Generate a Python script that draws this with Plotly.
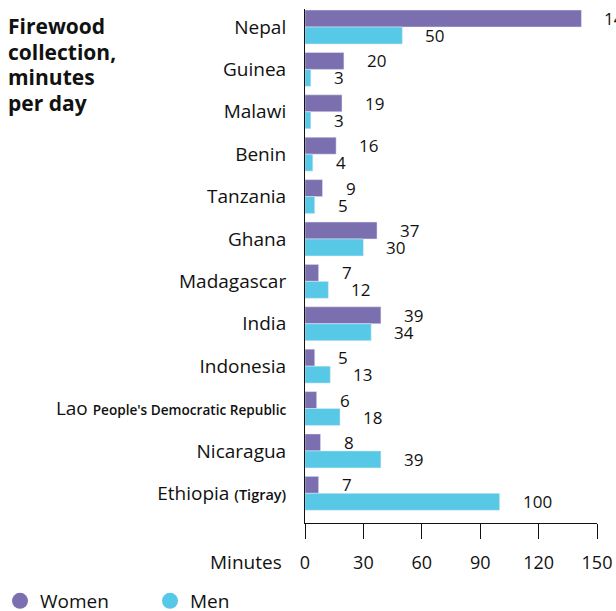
import plotly.graph_objects as go

countries = ["Nepal", "Guinea", "Malawi", "Benin", "Tanzania", "Ghana", "Madagascar",
             "India", "Indonesia", "Lao People's Democratic Republic", "Nicaragua", "Ethiopia (Tigray)"]
tick_text = ["Nepal", "Guinea", "Malawi", "Benin", "Tanzania", "Ghana", "Madagascar",
             "India", "Indonesia",
             "Lao <span style='font-size:13.6px;font-weight:600'>People's Democratic Republic</span>",
             "Nicaragua",
             "Ethiopia <span style='font-size:14.5px;font-weight:600'>(Tigray)</span>"]
women = [142, 20, 19, 16, 9, 37, 7, 39, 5, 6, 8, 7]
men = [50, 3, 3, 4, 5, 30, 12, 34, 13, 18, 39, 100]
x_ticks = [0, 30, 60, 90, 120, 150]

PURPLE = "#7B6FB0"
CYAN = "#57C8E6"
FONT = "Open Sans"
INK = "#111"

# plot area in pixels
W, H = 616, 611
L, R, T, B = 305, 19, 9, 88
PW, PH = W - L - R, H - T - B


def px_x(px):
    return (px - L) / PW


def px_y(py):
    return (H - B - py) / PH


fig = go.Figure()
fig.add_trace(go.Bar(y=countries, x=women, orientation="h", marker_color=PURPLE,
                     name="Women", showlegend=False))
fig.add_trace(go.Bar(y=countries, x=men, orientation="h", marker_color=CYAN,
                     name="Men", showlegend=False))
# legend entries with round markers
fig.add_trace(go.Scatter(x=[None], y=[None], mode="markers", name="Women",
                         marker=dict(color=PURPLE, size=20, symbol="circle")))
fig.add_trace(go.Scatter(x=[None], y=[None], mode="markers", name="Men",
                         marker=dict(color=CYAN, size=20, symbol="circle")))

annotations = []
for c, w, m in zip(countries, women, men):
    annotations.append(dict(x=w, y=c, xref="x", yref="y", text=str(w), showarrow=False,
                            xanchor="left", xshift=21, yshift=8.5,
                            font=dict(family=FONT, size=17, color=INK)))
    annotations.append(dict(x=m, y=c, xref="x", yref="y", text=str(m), showarrow=False,
                            xanchor="left", xshift=21, yshift=-8.5,
                            font=dict(family=FONT, size=17, color=INK)))

title_lines = ["Firewood", "collection,", "minutes", "per day"]
for i, line in enumerate(title_lines):
    annotations.append(dict(x=px_x(6), y=px_y(26 + 25.5 * i), xref="paper", yref="paper",
                            text="<b>" + line + "</b>", showarrow=False,
                            xanchor="left", yanchor="middle",
                            font=dict(family=FONT, size=21, color=INK)))

annotations.append(dict(x=px_x(284), y=px_y(562), xref="paper", yref="paper", text="Minutes",
                        showarrow=False, xanchor="right", yanchor="middle",
                        font=dict(family=FONT, size=19, color=INK)))

fig.update_layout(
    width=W, height=H,
    margin=dict(l=L, r=R, t=T, b=B, autoexpand=False),
    plot_bgcolor="white", paper_bgcolor="white",
    barmode="group", bargap=0.2, bargroupgap=0,
    font=dict(family=FONT, size=19, color=INK),
    xaxis=dict(range=[0, 150], tickvals=x_ticks, showgrid=False, zeroline=False,
               showline=True, linecolor=INK, linewidth=1,
               ticks="outside", ticklen=15, tickcolor=INK, tickwidth=1,
               ticklabelstandoff=8,
               tickfont=dict(family=FONT, size=18, color=INK)),
    yaxis=dict(range=[11.70, -0.425], tickvals=countries, ticktext=tick_text,
               showgrid=False, zeroline=False, showline=True, linecolor=INK, linewidth=1,
               ticks="", ticklabelstandoff=14,
               tickfont=dict(family=FONT, size=19, color=INK)),
    showlegend=True,
    legend=dict(orientation="h", x=px_x(0), y=px_y(601), xanchor="left", yanchor="middle",
                font=dict(family=FONT, size=19, color=INK),
                entrywidth=105, itemsizing="trace", bgcolor="rgba(0,0,0,0)"),
    annotations=annotations,
)

fig.write_html("out.html", config={"displayModeBar": False},
               post_script="document.body.style.margin='0';")
